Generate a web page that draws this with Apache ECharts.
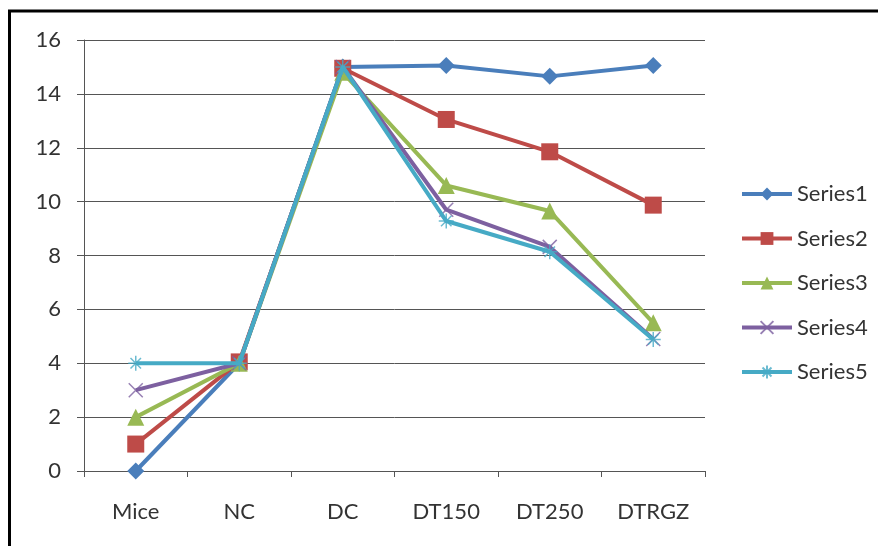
<!DOCTYPE html>
<html>
<head>
<meta charset="utf-8">
<script src="https://cdn.jsdelivr.net/npm/echarts@6/dist/echarts.min.js"></script>
<style>
html,body{margin:0;padding:0;background:#fff;}
#chart{width:878px;height:546px;}
</style>
</head>
<body>
<div id="chart"></div>
<script>
var categories = ['Mice', 'NC', 'DC', 'DT150', 'DT250', 'DTRGZ'];
var series1 = [0, 4, 15.0, 15.05, 14.65, 15.05];
var series2 = [1, 4.05, 14.95, 13.05, 11.85, 9.87];
var series3 = [2, 4, 14.8, 10.6, 9.65, 5.5];
var series4 = [3, 4, 15.0, 9.7, 8.32, 4.9];
var series5 = [4, 4, 15.0, 9.28, 8.14, 4.88];
var seriesNames = ['Series1', 'Series2', 'Series3', 'Series4', 'Series5'];
var yTicks = { min: 0, max: 16, interval: 2 };

var colors = ['#4A7EBB', '#BE4B48', '#98B954', '#7D60A0', '#46AAC5'];
var FONT = 'Lato';
var xPath = 'path://M0,0L10,10M10,0L0,10';
var starPath = 'path://M5,0L5,10M0,5L10,5M1.5,1.5L8.5,8.5M8.5,1.5L1.5,8.5';

function mk(i, data, symbol, size, stroke) {
  var s = {
    name: seriesNames[i],
    type: 'line',
    data: data,
    symbol: symbol,
    symbolSize: size,
    lineStyle: { color: colors[i], width: 4 },
    itemStyle: { color: colors[i] },
    z: 2 + i
  };
  if (stroke) {
    s.itemStyle = { color: 'rgba(0,0,0,0)', borderColor: colors[i], borderWidth: 1.5, opacity: 0.8 };
  }
  return s;
}

var chart = echarts.init(document.getElementById('chart'));
chart.setOption({
  animation: false,
  backgroundColor: '#ffffff',
  color: colors,
  grid: { left: 84, top: 40, width: 621, height: 431, containLabel: false },
  graphic: [
    { type: 'line', shape: { x1: 8, y1: 11, x2: 878, y2: 11 }, style: { stroke: '#000', lineWidth: 3 } },
    { type: 'line', shape: { x1: 9.5, y1: 10, x2: 9.5, y2: 546 }, style: { stroke: '#000', lineWidth: 3 } }
  ],
  legend: {
    orient: 'vertical',
    left: 735,
    top: 178,
    itemWidth: 50,
    itemHeight: 16,
    itemGap: 22.5,
    lineStyle: { width: 4 },
    textStyle: { fontFamily: FONT, fontSize: 22, color: '#333' },
    data: seriesNames
  },
  xAxis: {
    type: 'category',
    data: categories,
    boundaryGap: true,
    axisLine: { lineStyle: { color: '#555', width: 1 } },
    axisTick: { show: true, length: 6, alignWithLabel: false, lineStyle: { color: '#555' } },
    axisLabel: { fontFamily: FONT, fontSize: 22, color: '#333', margin: 30 },
    splitLine: { show: false }
  },
  yAxis: {
    type: 'value',
    min: yTicks.min,
    max: yTicks.max,
    interval: yTicks.interval,
    axisLine: { show: true, lineStyle: { color: '#555', width: 1 } },
    axisTick: { show: true, length: 7, lineStyle: { color: '#555' } },
    axisLabel: { fontFamily: FONT, fontSize: 22, color: '#333', margin: 23 },
    splitLine: { show: true, lineStyle: { color: '#555', width: 1 } }
  },
  series: [
    mk(0, series1, 'diamond', 17, false),
    mk(1, series2, 'rect', 17, false),
    mk(2, series3, 'triangle', 17, false),
    mk(3, series4, xPath, 14, true),
    mk(4, series5, starPath, 15, true)
  ]
});
</script>
</body>
</html>
